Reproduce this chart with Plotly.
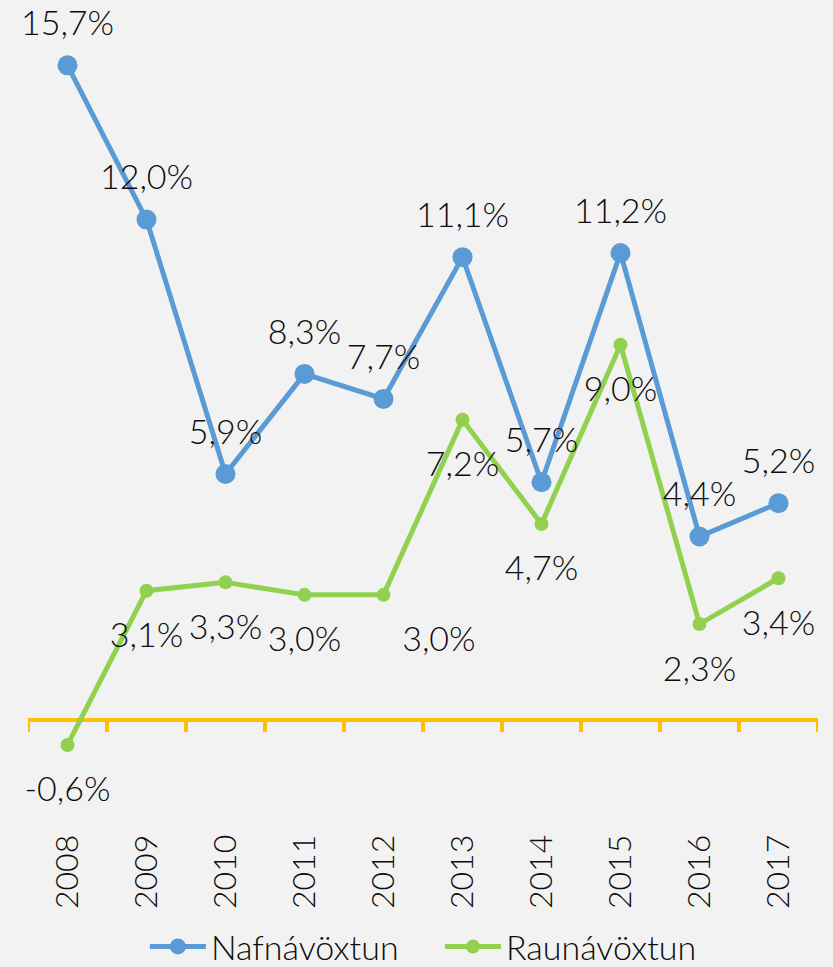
import plotly.graph_objects as go

years = ["2008", "2009", "2010", "2011", "2012", "2013", "2014", "2015", "2016", "2017"]
nafn = [15.7, 12.0, 5.9, 8.3, 7.7, 11.1, 5.7, 11.2, 4.4, 5.2]
raun = [-0.6, 3.1, 3.3, 3.0, 3.0, 7.2, 4.7, 9.0, 2.3, 3.4]
names = ["Nafnávöxtun", "Raunávöxtun"]

BLUE = "#5b9bd5"
GREEN = "#92d050"
GOLD = "#ffc000"
BG = "#f2f2f2"
FONT = "Lato"
TXT = "#0d0d0d"

def fmt(v):
    return f"{v:.1f}".replace(".", ",") + "%"

# the 2012 real-return label sits to the right of its point in the original;
# leading no-break spaces push the centred label over
shifted = {"2012"}
PAD = "\u00a0" * 12

fig = go.Figure()
fig.add_trace(go.Scatter(x=years, y=nafn, name=names[0], mode="lines+markers",
                         line=dict(color=BLUE, width=5),
                         marker=dict(color=BLUE, size=20)))
fig.add_trace(go.Scatter(x=years, y=raun, name=names[1], mode="lines+markers",
                         line=dict(color=GREEN, width=5),
                         marker=dict(color=GREEN, size=14)))
# data labels (transparent markers set the label offset)
fig.add_trace(go.Scatter(x=years, y=nafn, mode="markers+text", text=[fmt(v) for v in nafn],
                         textposition="top center", showlegend=False, hoverinfo="skip",
                         cliponaxis=False,
                         marker=dict(size=33, color="rgba(0,0,0,0)"),
                         textfont=dict(family=FONT, size=34, color=TXT, weight=300)))
fig.add_trace(go.Scatter(x=years, y=raun, mode="markers+text",
                         text=[(PAD + fmt(v)) if yr in shifted else fmt(v)
                               for yr, v in zip(years, raun)],
                         textposition="bottom center", showlegend=False, hoverinfo="skip",
                         cliponaxis=False,
                         marker=dict(size=48, color="rgba(0,0,0,0)"),
                         textfont=dict(family=FONT, size=34, color=TXT, weight=300)))

shapes = []
for i in range(len(years) + 1):
    shapes.append(dict(type="line", xref="x", yref="y", x0=i - 0.5, x1=i - 0.5,
                       ysizemode="pixel", yanchor=0, y0=0, y1=-12,
                       line=dict(color=GOLD, width=4), layer="below"))

fig.update_layout(
    width=833, height=967,
    paper_bgcolor=BG, plot_bgcolor=BG,
    margin=dict(l=28, r=15, t=32, b=147, autoexpand=False),
    font=dict(family=FONT, color=TXT),
    shapes=shapes,
    showlegend=True,
    legend=dict(orientation="h", x=0.148, xanchor="left", y=-0.161, yanchor="middle",
                font=dict(family=FONT, size=34, color=TXT, weight=300), traceorder="normal",
                itemwidth=56, entrywidth=224, entrywidthmode="pixels",
                bgcolor="rgba(0,0,0,0)"),
    xaxis=dict(type="category", range=[-0.5, 9.5], showgrid=False, showline=False,
               automargin=False, ticks="outside", ticklen=1, tickcolor="rgba(0,0,0,0)",
               tickangle=-90, tickfont=dict(family=FONT, size=32, color=TXT, weight=300)),
    yaxis=dict(range=[-2.4, 16.5], showgrid=False, showticklabels=False, automargin=False,
               zeroline=True, zerolinecolor=GOLD, zerolinewidth=4),
)

fig.write_html("out.html", config={"displayModeBar": False},
               post_script="document.body.style.margin='0';document.body.style.overflow='hidden';")
